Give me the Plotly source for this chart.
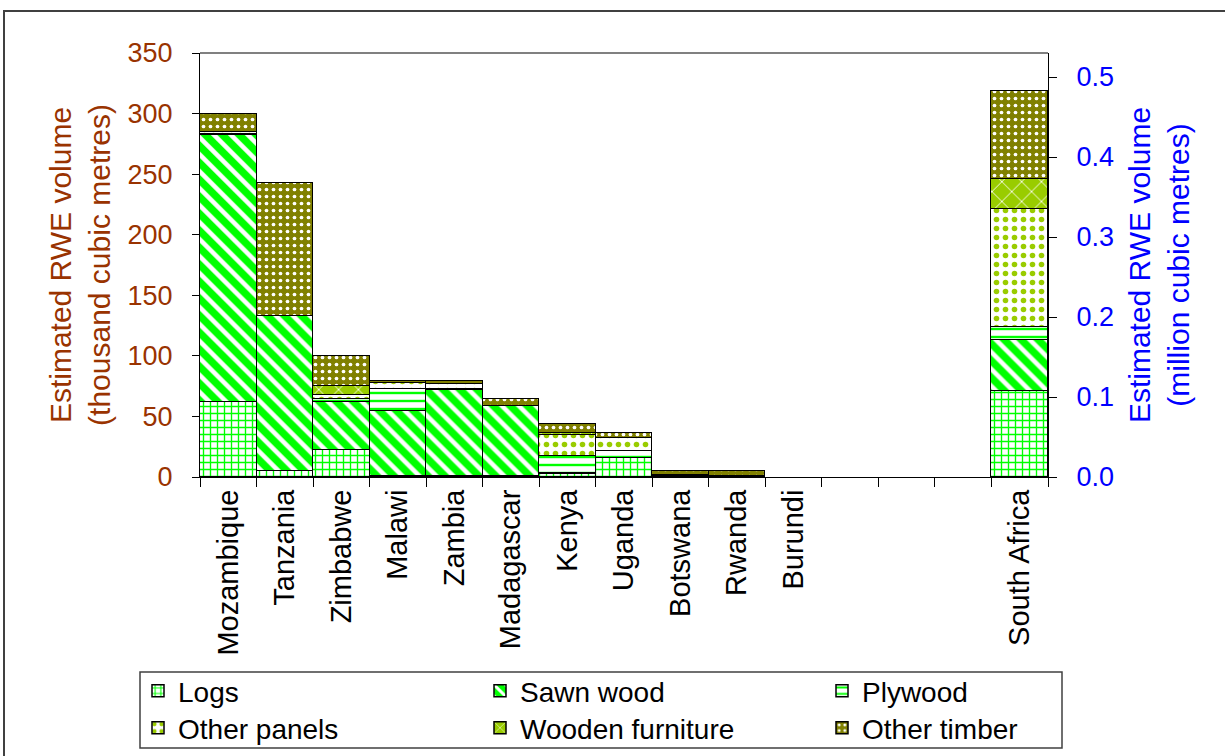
import plotly.graph_objects as go

# Category slots along the x axis (three empty slots before South Africa)
countries = ["Mozambique", "Tanzania", "Zimbabwe", "Malawi", "Zambia", "Madagascar",
             "Kenya", "Uganda", "Botswana", "Rwanda", "Burundi"]
spacer_slots = ["_s1", "_s2", "_s3"]
south_africa = "South Africa"

# Thousand cubic metres RWE (left axis); None = no segment
logs = [62, 5, 22.5, 1, 1, 1, 2.5, 16, 1, None, None]
sawn_wood = [220, 128, 39.5, 53.5, 70.5, 57.5, 0.5, None, 1, 0.5, None]
plywood = [1.5, None, 2, 18.5, 1, 0.5, 14.5, 5.5, None, None, None]
other_panels = [1.5, None, 4, 5, 4.5, None, 17, 10.5, None, None, None]
wooden_furniture = [None, None, 7.5, None, None, None, 1.5, None, None, None, None]
other_timber = [15, 110, 24, 1, 2.5, 5, 8, 4, 3, 4.5, None]

# Million cubic metres RWE (right axis, South Africa)
sa_values = {
    "Logs": 0.107,
    "Sawn wood": 0.064,
    "Plywood": 0.016,
    "Other panels": 0.148,
    "Wooden furniture": 0.037,
    "Other timber": 0.110,
}

series = [
    ("Logs", logs, dict(shape="+", bgcolor="white", fgcolor="#00FF00", size=7, solidity=0.35)),
    ("Sawn wood", sawn_wood, dict(shape="\\", bgcolor="#00FF00", fgcolor="white", size=12, solidity=0.38)),
    ("Plywood", plywood, dict(shape="-", bgcolor="white", fgcolor="#00FF00", size=8, solidity=0.3)),
    ("Other panels", other_panels, dict(shape=".", bgcolor="white", fgcolor="#99CC00", size=9, solidity=0.3)),
    ("Wooden furniture", wooden_furniture, dict(shape="x", bgcolor="#99CC00", fgcolor="white", size=14, solidity=0.12)),
    ("Other timber", other_timber, dict(shape=".", bgcolor="#808000", fgcolor="white", size=7, solidity=0.22)),
]
# legend rows: first three entries on the upper row, the rest below
legend_of = {"Logs": "legend", "Sawn wood": "legend", "Plywood": "legend",
             "Other panels": "legend2", "Wooden furniture": "legend2", "Other timber": "legend2"}

all_slots = countries + spacer_slots + [south_africa]
tick_text = countries + ["", "", ""] + [south_africa]

FONT = "Liberation Sans, Arial, sans-serif"
LEFT_COLOR = "#993300"
RIGHT_COLOR = "#0000FF"

fig = go.Figure()
for name, vals, pat in series:
    fig.add_trace(go.Bar(
        x=countries, y=vals, name=name, legendgroup=name, legend=legend_of[name],
        marker=dict(pattern=dict(fillmode="replace", **pat),
                    line=dict(color="black", width=1.5)),
        yaxis="y",
    ))
for name, vals, pat in series:
    fig.add_trace(go.Bar(
        x=[south_africa], y=[sa_values[name]], name=name, legendgroup=name,
        legend=legend_of[name], showlegend=False,
        marker=dict(pattern=dict(fillmode="replace", **pat),
                    line=dict(color="black", width=1.5)),
        yaxis="y2",
    ))

W, H = 1225, 756
L, R, T, B = 200, 177, 53, 279
pw, ph = W - L - R, H - T - B

def px(xp):
    return (xp - L) / pw

def py(yp):
    return (H - B - yp) / ph

legend_style = dict(
    orientation="h", x=px(138), xanchor="left", yanchor="middle",
    font=dict(size=28, color="black"), entrywidth=297,
    bgcolor="rgba(0,0,0,0)", borderwidth=0, itemclick=False, itemdoubleclick=False,
)

fig.update_layout(
    width=W, height=H,
    margin=dict(l=L, r=R, t=T, b=B, autoexpand=False),
    paper_bgcolor="white", plot_bgcolor="white",
    barmode="stack", bargap=0,
    font=dict(family=FONT, size=27, color="black"),
    showlegend=True,
    legend=dict(y=py(691), **legend_style),
    legend2=dict(y=py(728), **legend_style),
    xaxis=dict(
        type="category", categoryorder="array", categoryarray=all_slots,
        tickmode="array", tickvals=all_slots, ticktext=tick_text,
        tickangle=-90, tickfont=dict(size=29, color="black"),
        showline=True, linecolor="black", linewidth=1,
        ticks="outside", ticklen=9, tickcolor="black", tickson="boundaries",
        showgrid=False, range=[-0.5, len(all_slots) - 0.5], automargin=False,
    ),
    yaxis=dict(
        range=[0, 350], dtick=50, showgrid=False, zeroline=False,
        showline=True, linecolor="black", linewidth=1,
        ticks="outside", ticklen=7, tickcolor="black", ticklabelstandoff=14,
        tickfont=dict(size=27, color=LEFT_COLOR), automargin=False,
        title=dict(text="Estimated RWE volume<br>(thousand cubic metres)",
                   font=dict(size=30, color=LEFT_COLOR), standoff=8),
    ),
    yaxis2=dict(
        overlaying="y", side="right", range=[0, 0.53], dtick=0.1, tickformat=".1f",
        showgrid=False, zeroline=False,
        showline=True, linecolor="black", linewidth=1,
        ticks="outside", ticklen=8, tickcolor="black", ticklabelstandoff=14,
        tickfont=dict(size=27, color=RIGHT_COLOR), automargin=False,
        title=dict(text="Estimated RWE volume<br>(million cubic metres)",
                   font=dict(size=30, color=RIGHT_COLOR), standoff=16),
    ),
    shapes=[
        # plot-area top edge
        dict(type="line", xref="paper", yref="paper", x0=0, x1=1, y0=1, y1=1,
             line=dict(color="#808080", width=2)),
        # legend frame
        dict(type="rect", xref="paper", yref="paper",
             x0=px(140), x1=px(1062), y0=py(672), y1=py(748),
             line=dict(color="#404040", width=1.5), layer="below"),
        # outer chart frame
        dict(type="rect", xref="paper", yref="paper",
             x0=px(4), x1=px(1240), y0=py(11), y1=py(770),
             line=dict(color="#404040", width=2), layer="below"),
    ],
)

fig.write_html("out.html")
